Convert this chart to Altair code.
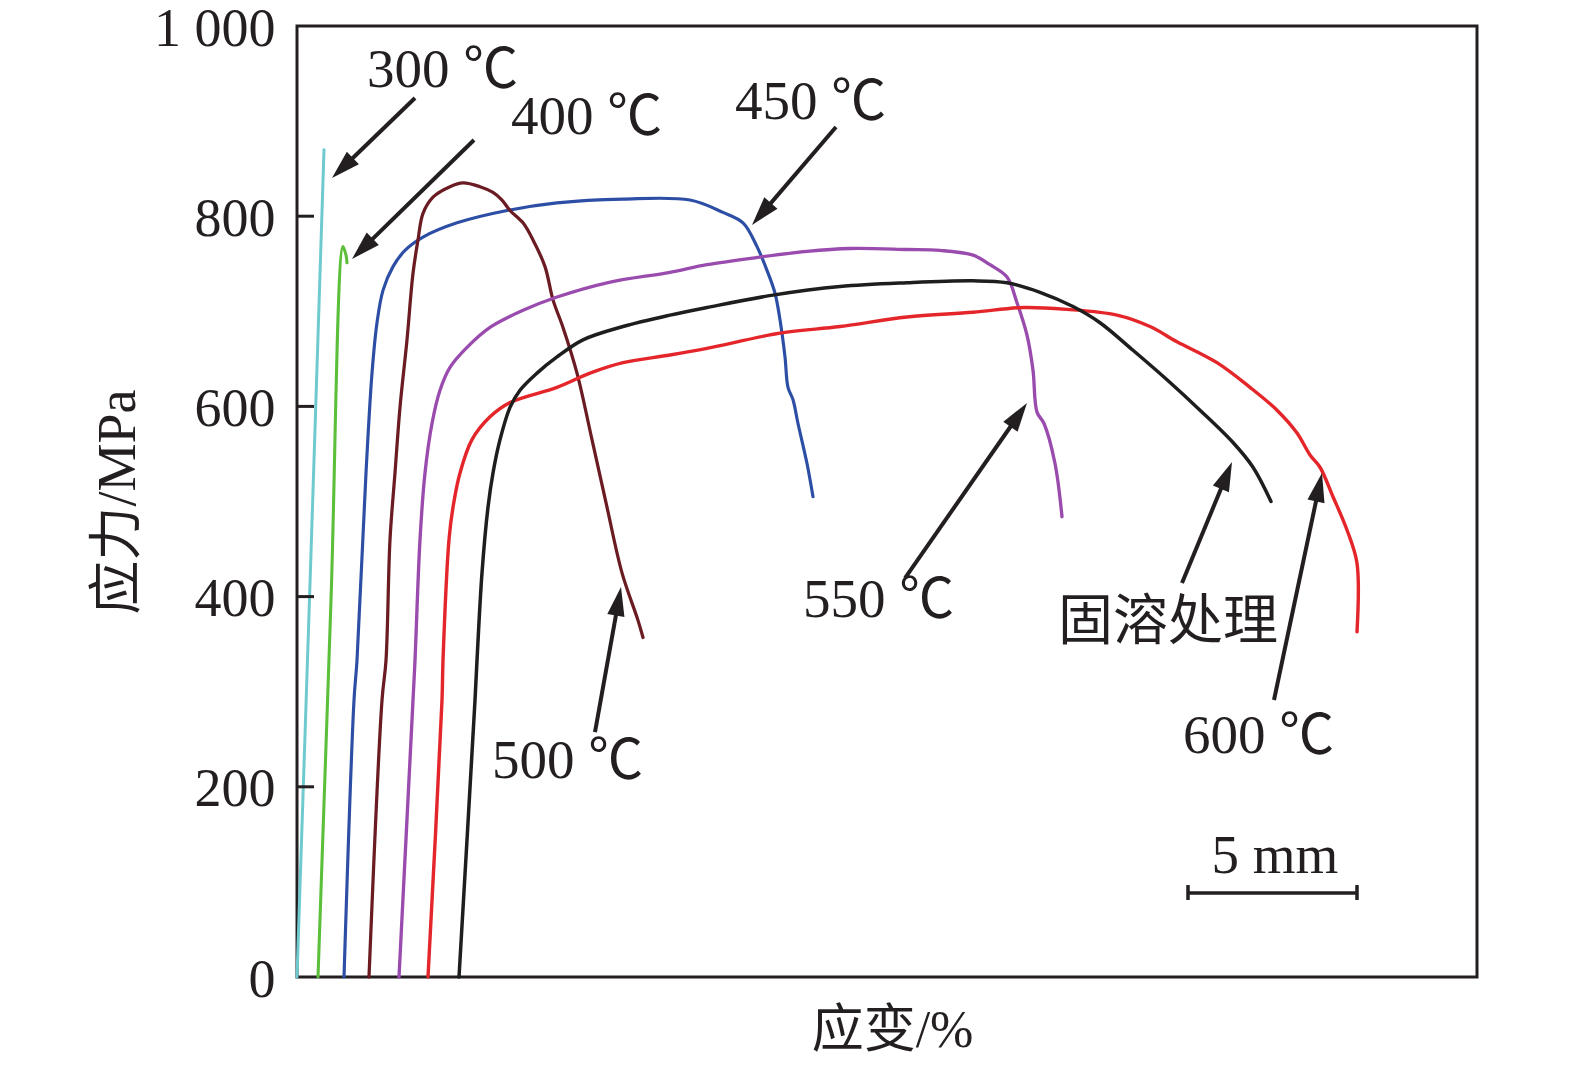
import math
import pandas as pd
import altair as alt

FONT = "Liberation Serif, Noto Sans CJK SC"
INK = "#231F20"

W, H = 1180, 951
XMAX, YMAX = 59.0, 1000.0

# ---------------- curves (strain %, stress MPa) ----------------
c300_x = [0.0, 0.68, 1.35]
c300_y = [0, 433, 870]

c400_x = [1.05, 1.7, 2.3, 2.45, 2.5]
c400_y = [0, 396, 768, 759, 751]

c450_x = [2.35, 2.85, 3.0, 3.45, 3.75, 4.0, 4.3, 4.8, 5.4, 6.3, 8.0, 10.5, 13.0, 16.3,
          19.65, 21.3, 22.3, 23.0, 23.5, 23.9, 24.15, 24.4, 24.55, 24.8, 25.05, 25.5, 25.8]
c450_y = [0, 291, 333, 530, 635, 688, 722, 747, 764, 778, 793, 806, 814, 818,
          817, 804, 793, 768, 743, 719, 691, 652, 620, 607, 582, 540, 505]

c500_x = [3.6, 4.25, 4.45, 4.65, 4.9, 5.15, 5.5, 5.8, 6.05, 6.3, 6.8, 7.65, 8.3, 9.15,
          9.8, 10.25, 10.65, 11.3, 11.8, 12.4, 12.8, 13.3, 14.0, 14.75, 15.5, 16.25, 17.05, 17.3]
c500_y = [0, 291, 333, 460, 530, 599, 670, 740, 775, 803, 820, 831, 835, 831,
          825, 817, 806, 793, 775, 747, 712, 683, 635, 565, 494, 425, 375, 357]

c550_x = [5.1, 5.8, 5.9, 6.15, 6.4, 6.75, 7.15, 7.65, 8.5, 9.65, 11.3, 13.0, 15.5, 18.65,
          20.5, 23.15, 25.5, 27.65, 30.5, 32.15, 33.8, 34.65, 35.5, 36.0, 36.5, 36.8, 37.0,
          37.35, 37.9, 38.25]
c550_y = [0, 291, 333, 460, 530, 582, 617, 641, 662, 683, 701, 715, 730, 741,
          749, 757, 763, 766, 765, 764, 759, 749, 736, 709, 675, 638, 594,
          582, 540, 484]

c600_x = [6.55, 7.25, 7.3, 7.6, 7.8, 8.15, 8.75, 9.65, 10.65, 13.0, 14.65, 16.3, 18.65,
          20.5, 24.15, 27.15, 30.5, 33.8, 36.3, 38.5, 41.0, 42.65, 44.0, 46.0, 47.65,
          49.0, 50.0, 50.65, 51.15, 51.8, 52.5, 53.0, 53.0]
c600_y = [0, 291, 333, 460, 494, 530, 565, 589, 604, 620, 635, 646, 654,
          661, 677, 684, 694, 699, 704, 702, 696, 684, 668, 646, 620,
          596, 572, 549, 536, 505, 470, 435, 363]

cst_x = [8.1, 8.9, 9.0, 9.25, 9.55, 9.8, 10.15, 10.65, 11.15, 12.0, 13.0, 14.3, 16.3,
         18.65, 20.5, 23.8, 27.15, 30.5, 33.8, 35.5, 37.15, 38.8, 40.15, 41.8, 43.5,
         45.15, 46.8, 47.8, 48.7]
cst_y = [0, 291, 333, 425, 494, 530, 565, 599, 617, 635, 652, 670, 684,
         696, 704, 717, 726, 730, 732, 730, 720, 705, 688, 659, 628,
         596, 562, 536, 500]

series_names = ["300", "400", "450", "500", "550", "600", "solution"]
series_x = [c300_x, c400_x, c450_x, c500_x, c550_x, c600_x, cst_x]
series_y = [c300_y, c400_y, c450_y, c500_y, c550_y, c600_y, cst_y]
series_colors = ["#6FCACF", "#5BBF3A", "#2D4EA5", "#6B1B22", "#9A4BAE", "#E4262A", "#1E1E1E"]
series_widths = [3, 3.5, 3, 3, 3, 3, 4.5]

# ---------------- annotations ----------------
label_text = ["300 ℃", "400 ℃", "450 ℃", "500 ℃", "550 ℃", "固溶处理", "600 ℃"]
label_x = [3.5, 10.7, 21.9, 9.75, 25.3, 38.05, 44.3]
label_y = [935.8, 886.4, 902.2, 209.2, 378.5, 355.4, 235.5]

arrow_tail_x = [5.9, 8.85, 26.95, 14.9, 30.4, 44.25, 48.85]
arrow_tail_y = [924.3, 880.1, 893.8, 257.6, 419.5, 414.3, 291.3]
arrow_tip_x = [1.75, 2.75, 22.75, 16.2, 36.5, 46.75, 51.25]
arrow_tip_y = [840.1, 755.0, 790.7, 410.1, 603.6, 541.5, 530.0]

inner_ticks = [200, 400, 600, 800]
y_tick_values = [0, 200, 400, 600, 800, 1000]

scalebar_x = [44.55, 53.0]
scalebar_y = 88.3
scalebar_tick_y = [81.0, 96.7]
scalebar_label = "5 mm"
scalebar_label_x = 48.9
scalebar_label_y = 109.4

# ---------------- tables ----------------
frames = []
for name, xs, ys in zip(series_names, series_x, series_y):
    frames.append(pd.DataFrame({"s": name, "x": xs, "y": ys, "i": list(range(len(xs)))}))
curves = pd.concat(frames, ignore_index=True)

SX = W / XMAX
SY = H / YMAX
HEAD_LEN = 29.0
arows = []
for tx, ty, hx, hy in zip(arrow_tail_x, arrow_tail_y, arrow_tip_x, arrow_tip_y):
    dxp = (hx - tx) * SX
    dyp = -(hy - ty) * SY
    L = math.hypot(dxp, dyp)
    ang = math.degrees(math.atan2(dxp, -dyp)) % 360
    k = (HEAD_LEN * 0.6) / L
    arows.append(dict(tx=tx, ty=ty, hx=hx, hy=hy,
                      nx=hx - (hx - tx) * k, ny=hy - (hy - ty) * k, ang=ang))
arrows = pd.DataFrame(arows)

labels = pd.DataFrame({"t": label_text, "x": label_x, "y": label_y})
ticks = pd.DataFrame({"y": inner_ticks, "x0": [0.0] * 4, "x1": [0.85] * 4})
sb = pd.DataFrame({"x0": [scalebar_x[0]], "x1": [scalebar_x[1]], "y": [scalebar_y]})
sbt = pd.DataFrame({"x": scalebar_x, "y0": [scalebar_tick_y[0]] * 2, "y1": [scalebar_tick_y[1]] * 2})
sbl = pd.DataFrame({"t": [scalebar_label], "x": [scalebar_label_x], "y": [scalebar_label_y]})

# ---------------- scales / axes ----------------
xsc = alt.Scale(domain=[0, XMAX], nice=False, zero=False)
ysc = alt.Scale(domain=[0, YMAX], nice=False, zero=False)

xaxis = alt.Axis(labels=False, ticks=False, domain=False, grid=False,
                 title="应变/%", titleFont=FONT, titleFontSize=52, titleFontWeight="normal",
                 titleColor=INK, titleX=W / 2 + 5, titleY=53, titleAlign="center",
                 titleBaseline="middle", titleAngle=0)
yaxis = alt.Axis(values=y_tick_values, format="d",
                 labelExpr="datum.value == 1000 ? '1 000' : datum.label",
                 ticks=False, domain=False, grid=False,
                 labelFont=FONT, labelFontSize=54, labelColor=INK, labelPadding=22,
                 labelOffset=3, labelFlush=False, labelOverlap=False,
                 title="应力/MPa", titleFont=FONT, titleFontSize=54, titleFontWeight="normal",
                 titleColor=INK, titleAngle=270, titleX=-179, titleY=H / 2,
                 titleAlign="center", titleBaseline="middle")


def X(f):
    return alt.X(f, scale=xsc, axis=xaxis)


def Y(f):
    return alt.Y(f, scale=ysc, axis=yaxis)


lines = alt.Chart(curves).mark_line(strokeJoin="round", strokeCap="round",
                                    interpolate="catmull-rom").encode(
    x=X("x:Q"), y=Y("y:Q"),
    color=alt.Color("s:N", scale=alt.Scale(domain=series_names, range=series_colors), legend=None),
    strokeWidth=alt.StrokeWidth("s:N", scale=alt.Scale(domain=series_names, range=series_widths), legend=None),
    detail="s:N",
    order="i:Q",
)

tick_layer = alt.Chart(ticks).mark_rule(color=INK, strokeWidth=3).encode(
    x=X("x0:Q"), x2="x1:Q", y=Y("y:Q"))

shafts = alt.Chart(arrows).mark_rule(color=INK, strokeWidth=4).encode(
    x=X("tx:Q"), y=Y("ty:Q"), x2="nx:Q", y2="ny:Q")

ARROW = "M0,0 L0.6,2 L-0.6,2 Z"
heads = alt.Chart(arrows).mark_point(shape=ARROW, filled=True, size=HEAD_LEN ** 2,
                                      color=INK, opacity=1, strokeWidth=0).encode(
    x=X("hx:Q"), y=Y("hy:Q"), angle=alt.Angle("ang:Q", scale=None))

texts = alt.Chart(labels).mark_text(align="left", baseline="alphabetic", font=FONT,
                                    fontSize=55, color=INK).encode(
    x=X("x:Q"), y=Y("y:Q"), text="t:N")

sb_bar = alt.Chart(sb).mark_rule(color=INK, strokeWidth=3.5).encode(
    x=X("x0:Q"), x2="x1:Q", y=Y("y:Q"))
sb_ticks = alt.Chart(sbt).mark_rule(color=INK, strokeWidth=3.5).encode(
    x=X("x:Q"), y=Y("y0:Q"), y2="y1:Q")
sb_text = alt.Chart(sbl).mark_text(align="center", baseline="alphabetic", font=FONT,
                                   fontSize=55, color=INK).encode(
    x=X("x:Q"), y=Y("y:Q"), text="t:N")

chart = alt.layer(lines, tick_layer, shafts, heads, texts, sb_bar, sb_ticks, sb_text).properties(
    width=W, height=H,
    autosize=alt.AutoSizeParams(type="none"),
    padding={"left": 289, "top": 18, "right": 70, "bottom": 80},
    background="white",
).configure_view(stroke=INK, strokeWidth=3)

chart.save("out.html", embed_options={"renderer": "svg", "actions": False})
